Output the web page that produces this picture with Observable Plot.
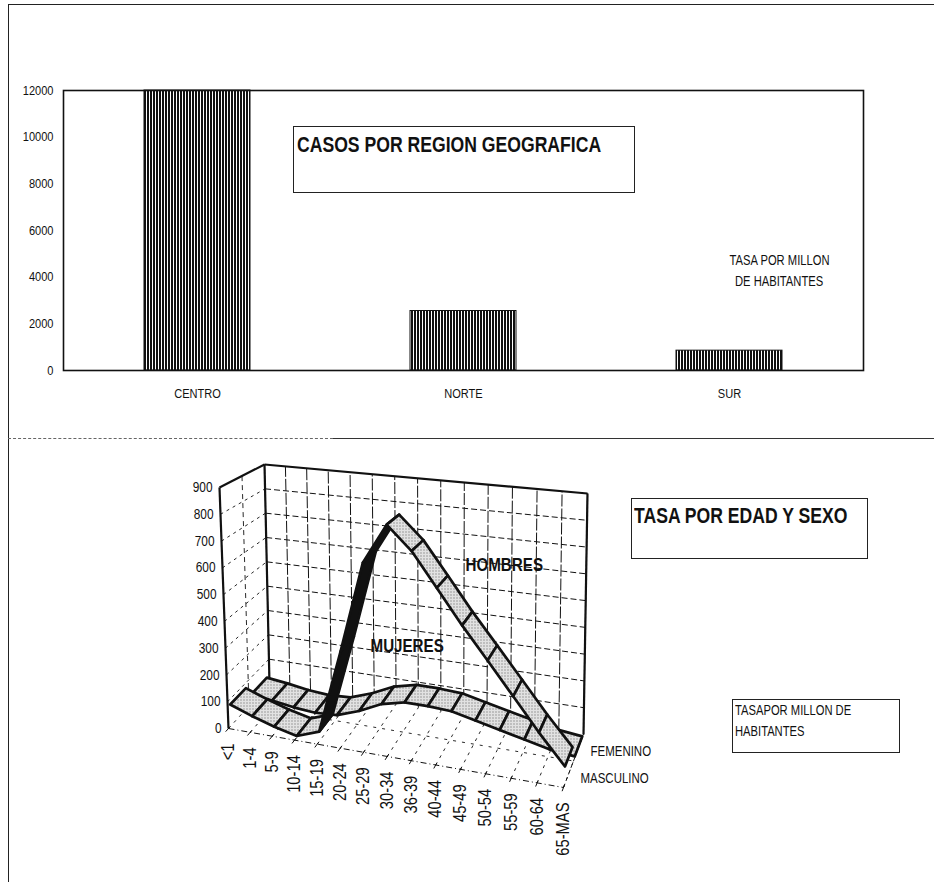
<!DOCTYPE html>
<html>
<head>
<meta charset="utf-8">
<script src="https://cdn.jsdelivr.net/npm/d3@7"></script>
<script src="https://cdn.jsdelivr.net/npm/@observablehq/plot@0.6"></script>
<style>
  body { margin: 0; background: #fff; }
  #pagina {
    position: relative; width: 934px; height: 882px; background: #fff; overflow: hidden;
    font-family: "Liberation Sans", Arial, sans-serif; color: #111;
  }
  #pagina svg { position: absolute; left: 0; display: block; }
  .linea { position: absolute; }
  .caja { position: absolute; border: 1px solid #222; box-sizing: border-box; }
  .titulo { font-weight: bold; font-size: 22px; line-height: 1; white-space: nowrap; }
  .nota { font-size: 14px; line-height: 21px; white-space: nowrap; }
  .estrecho { display: inline-block; transform: scaleX(0.8); transform-origin: 0 0; }
  .centrado { transform-origin: 50% 0; }
</style>
</head>
<body>
<div id="pagina"></div>
<script>
// ---------- Casos por región geográfica ----------
const regiones = ["CENTRO", "NORTE", "SUR"];
const casosRegion = [12000, 2550, 850];
const ticksRegion = [0, 2000, 4000, 6000, 8000, 10000, 12000];

// ---------- Tasa por edad y sexo ----------
const gruposEdad = ["<1", "1-4", "5-9", "10-14", "15-19", "20-24", "25-29", "30-34",
                    "36-39", "40-44", "45-49", "50-54", "55-59", "60-64", "65-MAS"];
const tasaMasculino = [80, 50, 25, 5, 35, 340, 670, 815, 730, 610, 490, 380, 270, 160, 60];
const tasaFemenino = [35, 25, 12, 5, 10, 40, 80, 100, 100, 95, 75, 55, 35, 15, 5];
const series = ["FEMENINO", "MASCULINO"];
const ticksEdad = [0, 100, 200, 300, 400, 500, 600, 700, 800, 900];

const FUENTE = '"Liberation Sans", Arial, sans-serif';
const ESTRECHO = 0.82; // horizontal squeeze that gives the narrow lettering
const pagina = document.getElementById("pagina");

function agregarPatrones(svg) {
  const defs = d3.select(svg).insert("defs", ":first-child");
  const rayado = defs.append("pattern").attr("id", "rayado")
    .attr("patternUnits", "userSpaceOnUse").attr("width", 3).attr("height", 8);
  rayado.append("rect").attr("width", 3).attr("height", 8).attr("fill", "#fff");
  rayado.append("rect").attr("width", 2).attr("height", 8).attr("fill", "#111");
  const punteado = defs.append("pattern").attr("id", "punteado")
    .attr("patternUnits", "userSpaceOnUse").attr("width", 3).attr("height", 3);
  punteado.append("rect").attr("width", 3).attr("height", 3).attr("fill", "#e2e2e2");
  punteado.append("rect").attr("width", 1).attr("height", 1).attr("fill", "#555");
}

// squeeze every label along its own baseline
function estrechar(svg, k) {
  d3.select(svg).selectAll("text").each(function () {
    const t = this.getAttribute("transform") || "";
    this.setAttribute("transform", (t + ` scale(${k},1)`).trim());
  });
}

// Bar chart of cases by region
const barras = regiones.map((r, i) => ({region: r, casos: casosRegion[i]}));
const svgArriba = Plot.plot({
  width: 934, height: 438,
  marginLeft: 63, marginRight: 71, marginTop: 90, marginBottom: 68,
  style: {fontFamily: FUENTE, fontSize: "13.5px", color: "#111", background: "transparent"},
  x: {domain: regiones, paddingInner: 0.6, paddingOuter: 0.3, tickSize: 0, tickPadding: 18, label: null},
  y: {domain: [0, 12000], ticks: ticksRegion, tickFormat: "d", tickSize: 0, tickPadding: 10, label: null},
  marks: [
    Plot.barY(barras, {x: "region", y: "casos", fill: "url(#rayado)", stroke: "#111", strokeWidth: 1}),
    Plot.frame({stroke: "#111", strokeWidth: 1.6})
  ]
});
agregarPatrones(svgArriba);
estrechar(svgArriba, ESTRECHO);
svgArriba.style.top = "0px";
pagina.append(svgArriba);

// ---------- 3D ribbon chart: box with perspective along the age axis ----------
const caja = {
  FLB: [228, 728], FRB: [563, 787], BLB: [269, 683], BRB: [583, 734],
  FLT: [219, 487], FRT: [567, 518], BLT: [264, 464], BRT: [587, 493]
};
const perspectiva = 1.11;
const vMax = 900;
const lerp = (a, b, t) => [a[0] + (b[0] - a[0]) * t, a[1] + (b[1] - a[1]) * t];
function proyectar(i, d, v) {
  const s = i / (gruposEdad.length - 1);
  const t = s / (s + perspectiva * (1 - s));
  const w = v / vMax;
  const abajo = lerp(lerp(caja.FLB, caja.FRB, t), lerp(caja.BLB, caja.BRB, t), d);
  const arriba = lerp(lerp(caja.FLT, caja.FRT, t), lerp(caja.BLT, caja.BRT, t), d);
  return lerp(abajo, arriba, w);
}
function segmento(a, b) { return {x1: a[0], y1: a[1], x2: b[0], y2: b[1]}; }

const nEdad = gruposEdad.length;
const ultimo = nEdad - 1;
const idx = d3.range(nEdad);
const lineasInternas = ticksEdad.filter(v => v > 0 && v < vMax);

const paredFondoV = idx.map(i => segmento(proyectar(i, 1, 0), proyectar(i, 1, vMax)));
const paredFondoH = lineasInternas.map(v => segmento(proyectar(0, 1, v), proyectar(ultimo, 1, v)));
const paredIzqH = lineasInternas.map(v => segmento(proyectar(0, 0, v), proyectar(0, 1, v)));
const paredIzqV = [segmento(proyectar(0, 0.5, 0), proyectar(0, 0.5, vMax))];
const pisoLineas = idx.map(i => segmento(proyectar(i, 0, 0), proyectar(i, 1, 0)));
const pisoMedio = [segmento(proyectar(0, 0.5, 0), proyectar(ultimo, 0.5, 0))];
const pisoFrente = [segmento(proyectar(0, 0, 0), proyectar(ultimo, 0, 0))];
const pisoDerecho = [segmento(proyectar(ultimo, 0, 0), proyectar(ultimo, 1, 0))];
const marcas = idx.map(i => segmento(proyectar(i, -0.07, 0), proyectar(i, 0.04, 0)));
const bordes = [
  segmento(proyectar(0, 0, 0), proyectar(0, 0, vMax)),
  segmento(proyectar(0, 0, vMax), proyectar(0, 1, vMax)),
  segmento(proyectar(0, 1, vMax), proyectar(ultimo, 1, vMax)),
  segmento(proyectar(ultimo, 1, vMax), proyectar(ultimo, 1, 0)),
  segmento(proyectar(0, 1, vMax), proyectar(0, 1, 0))
];

// Each ribbon is a chain of quads; the visible face depends on the screen winding.
const profundidad = {FEMENINO: [0.56, 0.94], MASCULINO: [0.06, 0.44]};
function cinta(valores, serie) {
  const [d1, d2] = profundidad[serie];
  const puntos = [];
  for (let i = 0; i < valores.length - 1; i++) {
    const quad = [
      proyectar(i, d1, valores[i]), proyectar(i + 1, d1, valores[i + 1]),
      proyectar(i + 1, d2, valores[i + 1]), proyectar(i, d2, valores[i])
    ];
    let area = 0;
    for (let k = 0; k < 4; k++) {
      const p = quad[k], q = quad[(k + 1) % 4];
      area += p[0] * q[1] - q[0] * p[1];
    }
    const cara = area < 0 ? "url(#punteado)" : "#111";
    quad.forEach(p => puntos.push({id: serie + "-" + i, x: p[0], y: p[1], cara}));
  }
  return puntos;
}
const cintaFem = cinta(tasaFemenino, "FEMENINO");
const cintaMasc = cinta(tasaMasculino, "MASCULINO");

const etiquetasValor = ticksEdad.map(v => ({texto: String(v), p: proyectar(0, 0, v)}));
const etiquetasEdad = gruposEdad.map((g, i) => ({texto: g, p: proyectar(i, 0, 0)}));
const etiquetasSerie = series.map(s => ({texto: s, p: proyectar(ultimo, (profundidad[s][0] + profundidad[s][1]) / 2, 0)}));
const rotulos = [{texto: "HOMBRES", x: 465, y: 565}, {texto: "MUJERES", x: 370, y: 646}];

const enlace = (datos, opciones) => Plot.link(datos, {x1: "x1", y1: "y1", x2: "x2", y2: "y2", stroke: "#111", ...opciones});
const poligono = (datos) => Plot.line(datos, {
  x: "x", y: "y", z: "id", fill: "cara", stroke: "#111", strokeWidth: 2.7,
  strokeLinejoin: "round", curve: "linear-closed"
});

const svgAbajo = Plot.plot({
  width: 934, height: 444,
  margin: 0,
  style: {fontFamily: FUENTE, fontSize: "14px", color: "#111", background: "transparent"},
  x: {domain: [0, 934], range: [0, 934], axis: null},
  y: {domain: [438, 882], range: [0, 444], axis: null},
  color: {type: "identity"},
  marks: [
    enlace(paredFondoV, {strokeWidth: 1, strokeDasharray: "12,2"}),
    enlace(paredFondoH, {strokeWidth: 1, strokeDasharray: "6,3"}),
    enlace(paredIzqH, {strokeWidth: 0.9, strokeDasharray: "3,4"}),
    enlace(paredIzqV, {strokeWidth: 0.9, strokeDasharray: "5,4"}),
    enlace(pisoLineas, {strokeWidth: 0.9, strokeDasharray: "3,5"}),
    enlace(pisoMedio, {strokeWidth: 0.9, strokeDasharray: "3,6"}),
    enlace(pisoFrente, {strokeWidth: 1, strokeDasharray: "6,3,1,3"}),
    enlace(pisoDerecho, {strokeWidth: 1, strokeDasharray: "4,3"}),
    enlace(marcas, {strokeWidth: 1}),
    enlace(bordes, {strokeWidth: 2.2}),
    poligono(cintaFem),
    poligono(cintaMasc),
    Plot.text(etiquetasValor, {x: d => d.p[0], y: d => d.p[1], text: "texto", textAnchor: "end", dx: -7, fontSize: 14.5}),
    Plot.text(etiquetasEdad, {x: d => d.p[0], y: d => d.p[1], text: "texto", rotate: -90, textAnchor: "end", dy: 15, fontSize: 18}),
    Plot.text(etiquetasSerie, {x: d => d.p[0], y: d => d.p[1], text: "texto", textAnchor: "start", dx: 12, dy: 4, fontSize: 14}),
    Plot.text(rotulos, {x: "x", y: "y", text: "texto", textAnchor: "start", fontSize: 18.5, fontWeight: "bold"})
  ]
});
agregarPatrones(svgAbajo);
estrechar(svgAbajo, ESTRECHO);
svgAbajo.style.top = "438px";
pagina.append(svgAbajo);

// ---------- page frame, separator and text boxes ----------
function linea(css) {
  const el = document.createElement("div");
  el.className = "linea";
  Object.assign(el.style, css);
  pagina.append(el);
}
linea({left: "8px", top: "4px", width: "926px", borderTop: "1.6px solid #222"});
linea({left: "8px", top: "4px", height: "878px", borderLeft: "1.6px solid #222"});
linea({left: "8px", top: "438px", width: "325px", borderTop: "1px dashed #666"});
linea({left: "333px", top: "438px", width: "601px", borderTop: "1.4px solid #333"});

function cajaTexto(css, lineas, claseCaja, claseTexto, centrado) {
  const el = document.createElement("div");
  el.className = claseCaja;
  Object.assign(el.style, css);
  const t = document.createElement("div");
  t.className = claseTexto;
  lineas.forEach((l, i) => {
    const s = document.createElement("span");
    s.className = "estrecho" + (centrado ? " centrado" : "");
    s.textContent = l;
    t.append(s);
    if (i < lineas.length - 1) t.append(document.createElement("br"));
  });
  el.append(t);
  pagina.append(el);
  return t;
}
const t1 = cajaTexto({left: "293px", top: "126px", width: "342px", height: "67px"},
  ["CASOS POR REGION GEOGRAFICA"], "caja", "titulo");
t1.style.padding = "7px 0 0 3px";
cajaTexto({left: "699px", top: "250px", width: "160px", textAlign: "center", position: "absolute"},
  ["TASA POR MILLON", "DE HABITANTES"], "", "nota", true);
const t3 = cajaTexto({left: "631px", top: "498px", width: "237px", height: "61px"},
  ["TASA POR EDAD Y SEXO"], "caja", "titulo");
t3.style.padding = "6px 0 0 2px";
const t4 = cajaTexto({left: "732px", top: "699px", width: "168px", height: "54px"},
  ["TASAPOR MILLON DE", "HABITANTES"], "caja", "nota");
t4.style.padding = "0 0 0 2px";
</script>
</body>
</html>
